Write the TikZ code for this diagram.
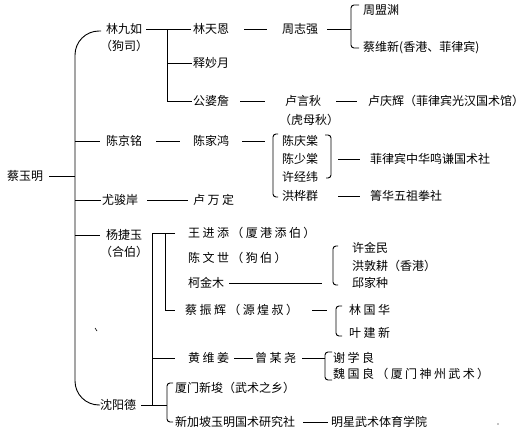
\documentclass[tikz,border=0pt]{standalone}
\usepackage{fontspec}
\setmainfont{Noto Sans CJK SC}
\newfontfamily\spfont[LetterSpace=20]{Noto Sans CJK SC}
\begin{document}
\begin{tikzpicture}[x=1pt,y=-1pt,
  t/.style={anchor=west,inner sep=0pt,font=\fontsize{12}{14}\selectfont,text height=10.5pt,text depth=1.5pt},
  ts/.style={t,font=\fontsize{12}{14}\spfont},
  ln/.style={line width=0.9pt},
  brk/.style={line width=0.9pt,rounded corners=3pt}]
\useasboundingbox (0,0) rectangle (531,439);
\coordinate (T) at (75,0);
\coordinate (L1) at (167,0);
\coordinate (Y1) at (152,0);
\coordinate (Y2) at (165,0);
\coordinate (B1) at (351,0);
\coordinate (BK) at (167,0);
% nodes
\node[t] (n0) at (7,176) {蔡玉明};
\node[t] (a1) at (106,29) {林九如};
\node[t] (a1b) at (100,46) {（狗司）};
\node[t] (a2) at (106,141) {陈京铭};
\node[t] (a3) at (102,200) {尤骏岸};
\node[t] (a4) at (106,235) {杨捷玉};
\node[t] (a4b) at (100,252) {（合伯）};
\node[t] (a5) at (100,405) {沈阳德};
\node[t] (b1) at (193,29) {林天恩};
\node[t] (b2) at (193,63) {释妙月};
\node[t] (b3) at (193,101) {公婆詹};
\node[t] (b4) at (193,141) {陈家鸿};
\node[ts] (b5) at (193,200) {卢万定};
\node[t] (c1) at (282,29) {周志强};
\node[t] (d1) at (363,10) {周盟渊};
\node[t] (d2) at (363,47) {蔡维新(香港、菲律宾)};
\node[t] (c2) at (285,101) {卢言秋};
\node[t] (c2b) at (279,120) {（虎母秋）};
\node[t] (d3) at (368,101) {卢庆辉（菲律宾光汉国术馆）};
\node[t] (e1) at (282,141) {陈庆棠};
\node[t] (e2) at (282,159) {陈少棠};
\node[t] (e3) at (282,177) {许经纬};
\node[t] (e4) at (282,196) {洪桦群};
\node[t] (f1) at (370,159) {菲律宾中华鸣谦国术社};
\node[t] (f2) at (370,196) {箐华五祖拳社};
\node[ts] (g1) at (188,233) {王进添（厦港添伯）};
\node[ts] (g2) at (188,258) {陈文世（狗伯）};
\node[t] (g3) at (188,283) {柯金木};
\node[ts] (g4) at (185,310) {蔡振辉（源煌叔）};
\node[ts] (g5) at (188,358) {黄维姜};
\node[ts] (g6) at (255,358) {曾某尧};
\node[t] (h1) at (352,248) {许金民};
\node[t] (h2) at (352,266) {洪敦耕（香港）};
\node[t] (h3) at (352,283) {邱家种};
\node[ts] (i1) at (349,310) {林国华};
\node[ts] (i2) at (349,333) {叶建新};
\node[ts] (j1) at (333,358) {谢学良};
\node[ts] (j2) at (333,374) {魏国良（厦门神州武术）};
\node[t] (k1) at (175,388) {厦门新埈（武术之乡）};
\node[t] (k2) at (175,422) {新加坡玉明国术研究社};
\node[t] (k3) at (331,422) {明星武术体育学院};
% main trunk
\draw[ln] ([xshift=6pt]n0.east) -- (T |- n0.east);
\draw[ln,rounded corners=24pt] ([xshift=-5pt,yshift=-2pt]a1.west) -- ([yshift=-2pt]T |- a1.west) -- (T |- a5.west) -- (a5.west);
\draw[ln] (T |- a2.west) -- ([xshift=-6pt]a2.west);
\draw[ln] (T |- a3.west) -- ([xshift=-1pt]a3.west);
\draw[ln] (T |- a4.west) -- ([xshift=-6pt]a4.west);
% 林九如
\draw[ln] ([xshift=4pt]a1.east) -- ([xshift=-2pt]b1.west);
\draw[ln] (L1 |- a1.east) -- (L1 |- b3.west) -- ([xshift=-1pt]b3.west);
\draw[ln] (L1 |- b2.west) -- ([xshift=-1pt]b2.west);
\draw[ln] ([xshift=15pt]b1.east) -- ([xshift=-15pt]c1.west);
\draw[ln] ([xshift=9pt]c1.east) -- (B1 |- c1.east);
\draw[brk] (359,5) -- (351,5) -- (351,48) -- (359,48);
\draw[ln] ([xshift=11pt]b3.east) -- ([xshift=-20pt]c2.west);
\draw[ln] ([xshift=15pt]c2.east) -- ([xshift=-11pt]d3.west);
% 陈京铭
\draw[ln] ([xshift=14pt]a2.east) -- ([xshift=-13pt]b4.west);
\draw[ln] ([xshift=13pt]b4.east) -- ([xshift=-17pt]e1.west);
\draw[brk] (278,134) -- (273,134) -- (273,197) -- (278,197);
\draw[brk] (325,135) -- (331,135) -- (331,178) -- (326,178);
\draw[ln] ([xshift=20pt]e2.east) -- ([xshift=-10pt]f1.west);
\draw[ln] ([xshift=20pt]e4.east) -- ([xshift=-10pt]f2.west);
% 尤骏岸
\draw[ln] ([xshift=9pt]a3.east) -- ([xshift=-5pt]b5.west);
% 杨捷玉
\draw[ln] ([xshift=-13pt]g1.west) -- (Y1 |- g1.west) -- (Y1 |- a5.east);
\draw[ln] (Y2 |- g1.west) -- (Y2 |- g4.west) -- ([xshift=-10pt]g4.west);
\draw[ln] (Y1 |- g5.west) -- ([xshift=-13pt]g5.west);
\draw[ln] ([xshift=5pt]g3.east) -- ([xshift=-30pt]h3.west);
\draw[brk] (338,246) -- (333,246) -- (333,285) -- (338,285);
\draw[ln] (312,310) -- ([xshift=-22pt]i1.west);
\draw[brk] (342,306) -- (336,306) -- (336,336) -- (342,336);
\draw[ln] (234,358) -- ([xshift=-2pt]g6.west);
\draw[ln] (302,358) -- ([xshift=-8pt]j1.west);
\draw[brk] (332,352) -- (325,352) -- (325,380) -- (332,380);
% 沈阳德
\draw[ln] ([xshift=5pt]a5.east) -- (BK |- a5.east);
\draw[brk] (173,383) -- (167,383) -- (167,422) -- (173,422);
\draw[ln] ([xshift=8pt]k2.east) -- ([xshift=-3pt]k3.west);
% stray marks
\draw[line width=0.6pt] (95,328) -- (97,331);
\fill (498,424) circle (0.6);
\end{tikzpicture}
\end{document}
